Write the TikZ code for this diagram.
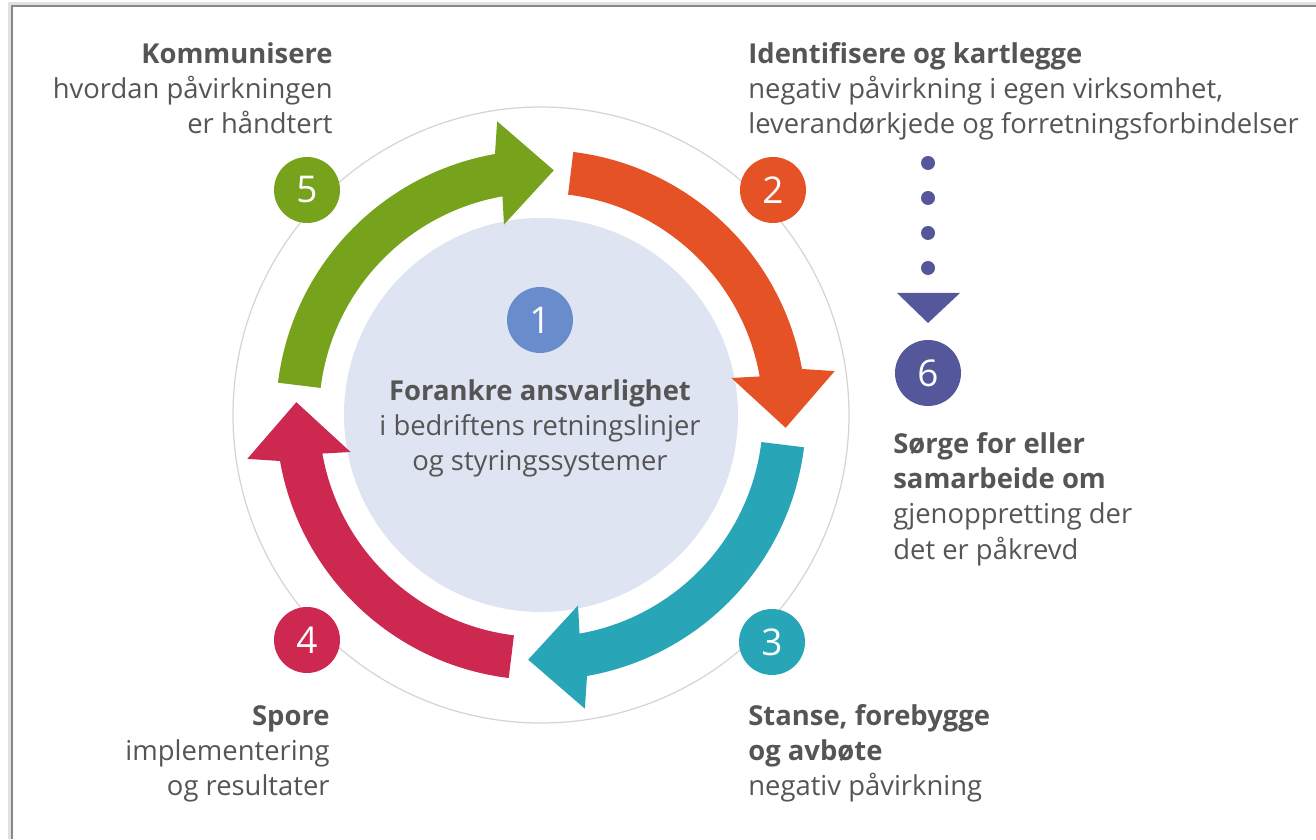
\documentclass[tikz,border=0pt]{standalone}
\usepackage{fontspec}
\setmainfont{Open Sans}
\usepackage{tikz}
\usetikzlibrary{shapes,positioning,calc}

\definecolor{arrgreen}{RGB}{118,162,28}
\definecolor{arrorange}{RGB}{228,82,38}
\definecolor{arrteal}{RGB}{40,166,184}
\definecolor{arrred}{RGB}{204,40,80}
\definecolor{stepblue}{RGB}{105,140,205}
\definecolor{stepnavy}{RGB}{84,88,155}
\definecolor{corefill}{RGB}{222,228,242}
\definecolor{ringgray}{RGB}{212,212,212}
\definecolor{txtgray}{RGB}{85,85,85}
\definecolor{framegray}{RGB}{135,135,135}

\begin{document}
\begin{tikzpicture}[
    x=0.02cm, y=0.02cm,
    badge/.style={circle,inner sep=0pt,minimum size=1.32cm,text=white,font=\fontsize{21}{24}\selectfont},
    blurb/.style={inner sep=0pt,text=txtgray,font=\fontsize{15.6}{20.1}\selectfont},
    dot/.style={circle,fill=stepnavy,inner sep=0pt,minimum size=0.28cm}
    ]
        \useasboundingbox (0,0) rectangle (1316,839);
        % frame
        \draw [ringgray!70,line width=2pt] (1316,835) -- (10,835) -- (10,0);
        \draw [framegray,line width=1pt] (1316,833) -- (12,833) -- (12,0);

        \coordinate (C) at (541,424);
        \draw [ringgray,line width=0.7pt] (C) circle [radius=308];
        \fill [corefill] (C) circle [radius=197];

        % arrows
        \begin{scope}[shift={(C)}]
        \foreach \t/\c in {173/arrgreen, 83/arrorange, -7/arrteal, -97/arrred}
            \fill [\c] (\t:265) arc [start angle=\t, end angle=\t-73, radius=265]
                -- (\t-74.5:297) -- (\t-86:245) -- (\t-72:194) -- (\t-73:222)
                arc [start angle=\t-73, end angle=\t, radius=222] -- cycle;
        \end{scope}

        \node [badge,fill=stepblue](s1) at (540,519) {1};
        \node [badge,fill=arrorange](s2) at (773,649) {2};
        \node [badge,fill=arrteal](s3) at (772,197) {3};
        \node [badge,fill=arrred](s4) at (307,199) {4};
        \node [badge,fill=arrgreen](s5) at (307,649) {5};
        \node [badge,fill=stepnavy](s6) at (928,466) {6};

        \node [dot](d1) at (928,676) {};
        \node [dot](d2) at (928,641) {};
        \node [dot](d3) at (928,606) {};
        \node [dot](d4) at (928,571) {};
        \fill [stepnavy] (897,546) -- (960,546) -- (928,516) -- cycle;

        \node [blurb,align=center,anchor=north](t1) at (540,460)
            {\textbf{Forankre ansvarlighet}\\i bedriftens retningslinjer\\og styringssystemer};
        \node [blurb,align=left,anchor=north west](t2) at (748,797)
            {\textbf{Identifisere og kartlegge}\\negativ påvirkning i egen virksomhet,\\leverandørkjede og forretningsforbindelser};
        \node [blurb,align=left,anchor=north west](t3) at (748,135)
            {\textbf{Stanse, forebygge}\\\textbf{og avbøte}\\negativ påvirkning};
        \node [blurb,align=right,anchor=north east](t4) at (330,134)
            {\textbf{Spore}\\implementering\\og resultater};
        \node [blurb,align=right,anchor=north east](t5) at (333,797)
            {\textbf{Kommunisere}\\hvordan påvirkningen\\er håndtert};
        \node [blurb,align=left,anchor=north west](t6) at (893,407)
            {\textbf{Sørge for eller}\\\textbf{samarbeide om}\\gjenoppretting der\\det er påkrevd};
\end{tikzpicture}
\end{document}
